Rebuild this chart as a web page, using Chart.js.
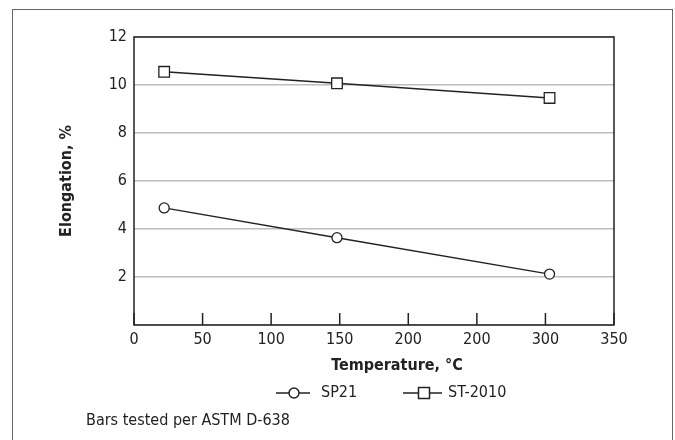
<!DOCTYPE html>
<html>
<head>
<meta charset="utf-8">
<script src="https://cdn.jsdelivr.net/npm/chart.js@4"></script>
<style>
    html, body { margin: 0; padding: 0; background: #fff; }
    #wrap { position: relative; width: 675px; height: 440px; overflow: hidden; }
    #frame {
        position: absolute; left: 12px; top: 9px; width: 661px; height: 460px;
        border: 1.5px solid #666; box-sizing: border-box;
    }
    #chart { position: absolute; left: 0; top: 0; }
    #note {
        position: absolute; left: 86px; top: 410px;
        font: 16px 'Liberation Sans Narrow', 'DejaVu Sans Condensed', sans-serif;
        color: #222;
    }
</style>
</head>
<body>
<div id="wrap">
    <div id="frame"></div>
    <canvas id="chart" width="675" height="440"></canvas>
    <div id="note">Bars tested per ASTM D-638</div>
</div>
<script>
// data
const temperatures = [22, 148, 303];
const sp21Values = [4.88, 3.64, 2.12];
const st2010Values = [10.55, 10.07, 9.46];
const xTickLabels = ['0', '50', '100', '150', '200', '200', '300', '350'];
const yTickLabels = ['', '2', '4', '6', '8', '10', '12'];
const seriesNames = ['SP21', 'ST-2010'];

const FONT = "'Liberation Sans Narrow', 'DejaVu Sans Condensed', sans-serif";
const INK = '#222';

function toPoints(xs, ys) {
    return xs.map((x, i) => ({ x: x, y: ys[i] }));
}

// frame round the plot + inward tick marks on x, legend and x title
const decorPlugin = {
    id: 'decor',
    beforeDatasetsDraw(chart) {
        const ctx = chart.ctx;
        const a = chart.chartArea;
        const xs = chart.scales.x;
        ctx.save();
        ctx.strokeStyle = INK;
        ctx.lineWidth = 1.5;
        ctx.strokeRect(a.left, a.top, a.right - a.left, a.bottom - a.top);
        xs.ticks.forEach((t, i) => {
            const px = xs.getPixelForTick(i);
            ctx.beginPath();
            ctx.moveTo(px, a.bottom);
            ctx.lineTo(px, a.bottom - 12);
            ctx.stroke();
        });
        ctx.restore();
    },
    afterDraw(chart) {
        const ctx = chart.ctx;
        ctx.save();
        ctx.fillStyle = INK;
        ctx.textBaseline = 'middle';

        // x axis title
        ctx.font = 'bold 16px ' + FONT;
        ctx.textAlign = 'center';
        ctx.fillText('Temperature, °C', 397, 366);

        // legend
        ctx.font = '16px ' + FONT;
        ctx.textAlign = 'left';
        ctx.strokeStyle = INK;
        ctx.lineWidth = 1.5;
        const ly = 393;
        const items = [
            { x0: 276, x1: 310, cx: 294, tx: 321, shape: 'circle' },
            { x0: 403, x1: 442, cx: 424, tx: 448, shape: 'rect' }
        ];
        items.forEach((it, i) => {
            ctx.beginPath();
            ctx.moveTo(it.x0, ly);
            ctx.lineTo(it.x1, ly);
            ctx.stroke();
            ctx.beginPath();
            if (it.shape === 'circle') {
                ctx.arc(it.cx, ly, 5, 0, Math.PI * 2);
            } else {
                ctx.rect(it.cx - 5.5, ly - 5.5, 11, 11);
            }
            ctx.fillStyle = '#fff';
            ctx.fill();
            ctx.stroke();
            ctx.fillStyle = INK;
            ctx.fillText(chart.data.datasets[i].label, it.tx, ly);
        });
        ctx.restore();
    }
};

const ctx = document.getElementById('chart').getContext('2d');
new Chart(ctx, {
    type: 'scatter',
    data: {
        datasets: [{
            label: seriesNames[0],
            data: toPoints(temperatures, sp21Values),
            showLine: true,
            borderColor: INK,
            borderWidth: 1.5,
            pointStyle: 'circle',
            pointRadius: 5,
            pointBorderWidth: 1.3,
            pointBackgroundColor: '#fff',
            pointBorderColor: INK
        }, {
            label: seriesNames[1],
            data: toPoints(temperatures, st2010Values),
            showLine: true,
            borderColor: INK,
            borderWidth: 1.5,
            pointStyle: 'rect',
            pointRadius: 7.5,
            pointBorderWidth: 1.3,
            pointBackgroundColor: '#fff',
            pointBorderColor: INK
        }]
    },
    options: {
        responsive: false,
        devicePixelRatio: 1,
        animation: false,
        layout: {
            padding: { left: 0, top: 37, right: 61, bottom: 85 }
        },
        plugins: {
            legend: { display: false },
            tooltip: { enabled: false }
        },
        scales: {
            x: {
                type: 'linear',
                min: 0,
                max: 350,
                grid: { display: false, drawTicks: false },
                border: { display: false },
                ticks: {
                    stepSize: 50,
                    padding: 5,
                    color: INK,
                    font: { family: FONT, size: 16 },
                    maxRotation: 0,
                    callback: function(value, index) {
                        return xTickLabels[index];
                    }
                },
                afterFit: function(scale) { scale.height = 30; }
            },
            y: {
                min: 0,
                max: 12,
                grid: { color: '#bdbdbd', lineWidth: 1.5, drawTicks: false },
                border: { display: false },
                ticks: {
                    stepSize: 2,
                    padding: 7,
                    color: INK,
                    font: { family: FONT, size: 16 },
                    callback: function(value, index) {
                        return yTickLabels[index];
                    }
                },
                title: {
                    display: true,
                    text: 'Elongation, %',
                    color: INK,
                    font: { family: FONT, size: 16, weight: 'bold' },
                    padding: { top: 57, bottom: 0 }
                },
                afterFit: function(scale) { scale.width = 134; }
            }
        }
    },
    plugins: [decorPlugin]
});
</script>
</body>
</html>
